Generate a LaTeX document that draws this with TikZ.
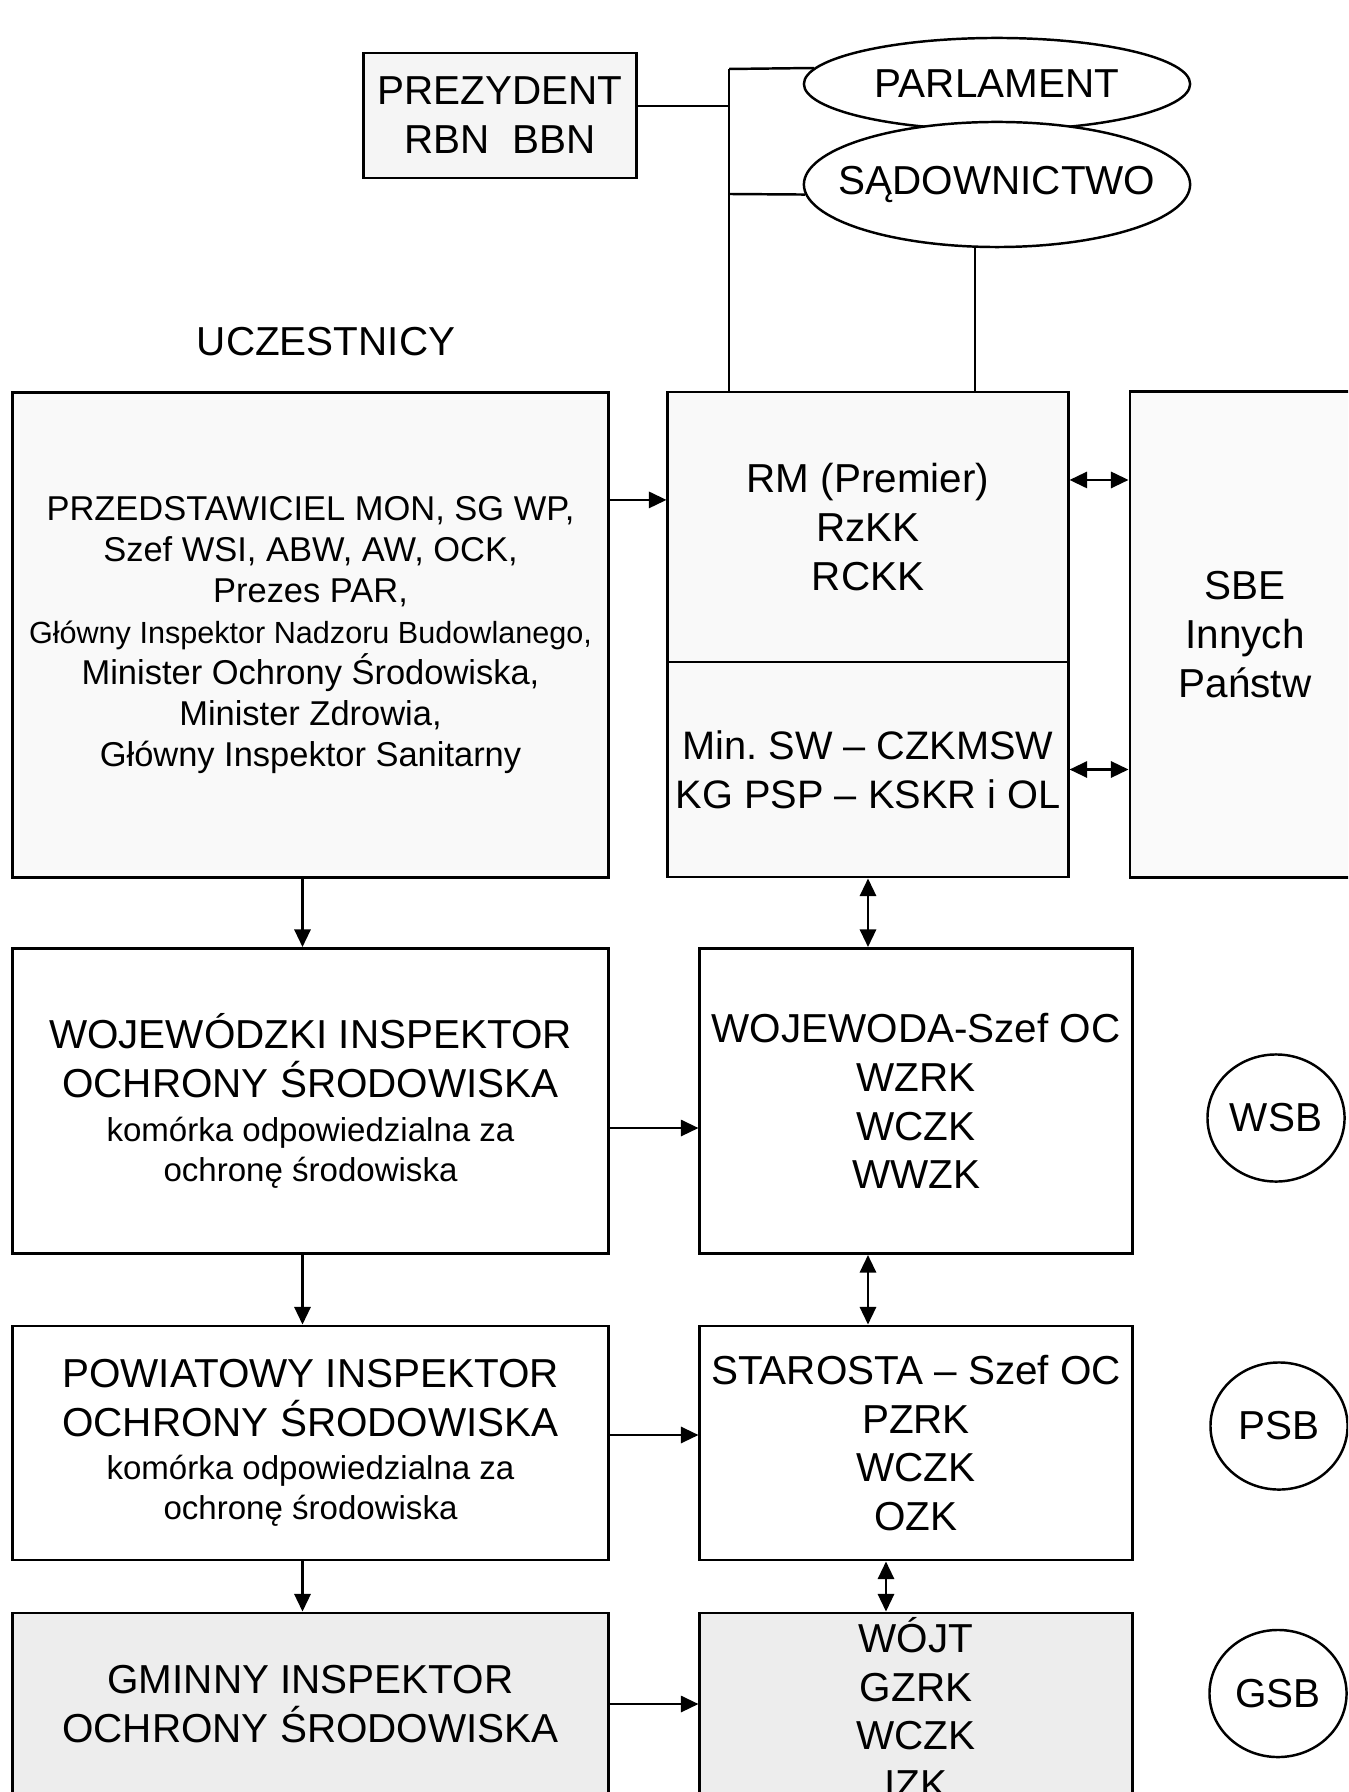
\documentclass[tikz,border=0pt]{standalone}
\usepackage{fontspec}
\setmainfont{Liberation Sans}
\usetikzlibrary{arrows.meta,shapes.geometric}
\newcommand{\bigtxt}{\fontsize{11.5}{13.9}\selectfont}
\newcommand{\smalltxt}{\fontsize{9.4}{11.6}\selectfont}
\begin{document}
\begin{tikzpicture}[x=0.01cm,y=-0.01cm,
    box/.style={draw,line width=0.8pt,inner sep=0pt,align=center,font=\bigtxt},
    oval/.style={draw,ellipse,line width=0.7pt,inner sep=0pt,fill=white,font=\bigtxt},
    arr/.style={line width=0.7pt,-{Triangle[length=5pt,width=4.6pt]}},
    darr/.style={line width=0.7pt,{Triangle[length=5pt,width=4.6pt]}-{Triangle[length=5pt,width=4.6pt]}}]
    \useasboundingbox[fill=white] (0,0) rectangle (1348,1792);
    \clip (0,0) rectangle (1348,1792);
    \node[box,fill=gray!8,minimum width=2.73cm,minimum height=1.25cm] (prez) at (500,115.5) {PREZYDENT\\RBN~~BBN};
    \node[oval,minimum width=3.86cm,minimum height=0.92cm] (parl) at (997,84) {PARLAMENT};
    \node[oval,minimum width=3.86cm,minimum height=1.25cm] (sad) at (997,184.5) {\makebox[0pt]{SĄDOWNICTWO}};
    \node[font=\bigtxt] (ucz) at (326,342) {UCZESTNICY};
    \node[box,fill=gray!5,font=\fontsize{9.8}{11.7}\selectfont,minimum width=5.95cm,minimum height=4.84cm] (przed) at (310.5,635) {PRZEDSTAWICIEL MON, SG WP,\\Szef WSI, ABW, AW, OCK,\\Prezes PAR,\\{\fontsize{8.7}{11.7}\selectfont Główny Inspektor Nadzoru Budowlanego,}\\Minister Ochrony Środowiska,\\Minister Zdrowia,\\Główny Inspektor Sanitarny};
    \node[box,fill=gray!5,minimum width=4cm,minimum height=2.7cm] (rm) at (868,527) {RM (Premier)\\RzKK\\RCKK};
    \node[box,fill=gray!5,font=\fontsize{11.3}{13.9}\selectfont,minimum width=4cm,minimum height=2.15cm] (msw) at (868,769.5) {Min.\ SW – CZKMSW\\KG PSP – KSKR i OL};
    \node[box,fill=gray!4,minimum width=2.3cm,minimum height=4.85cm] (sbe) at (1245,634.5) {SBE\\Innych\\Państw};
    \node[box,minimum width=5.95cm,minimum height=3.05cm] (wins) at (310.5,1101) {WOJEWÓDZKI INSPEKTOR\\OCHRONY ŚRODOWISKA\\[-1.5pt]{\smalltxt komórka odpowiedzialna za}\\[-2.5pt]{\smalltxt ochronę środowiska}};
    \node[box,minimum width=4.32cm,minimum height=3.05cm] (woj) at (916,1101) {WOJEWODA-Szef OC\\WZRK\\WCZK\\WWZK};
    \node[oval,minimum width=1.37cm,minimum height=1.27cm] (wsb) at (1276,1118) {WSB};
    \node[box,minimum width=5.95cm,minimum height=2.34cm] (pins) at (310.5,1443) {POWIATOWY INSPEKTOR\\OCHRONY ŚRODOWISKA\\[-1.5pt]{\smalltxt komórka odpowiedzialna za}\\[-2.5pt]{\smalltxt ochronę środowiska}};
    \node[box,minimum width=4.32cm,minimum height=2.34cm] (star) at (916,1443) {STAROSTA – Szef OC\\PZRK\\WCZK\\OZK};
    \node[oval,minimum width=1.37cm,minimum height=1.27cm] (psb) at (1279,1426) {PSB};
    \node[box,fill=gray!14,minimum width=5.95cm,minimum height=1.82cm] (gins) at (310.5,1704) {GMINNY INSPEKTOR\\OCHRONY ŚRODOWISKA};
    \node[box,fill=gray!14,minimum width=4.32cm,minimum height=1.9cm] (wojt) at (916,1708) {WÓJT\\GZRK\\WCZK\\IZK};
    \node[oval,minimum width=1.37cm,minimum height=1.27cm] (gsb) at (1278,1693.5) {GSB};
    \coordinate (jparl) at (729,69);
    \coordinate (jprez) at (729,106);
    \coordinate (jsad) at (729,194);
    \draw[line width=0.7pt] (jprez -| prez.east) -- (jprez);
    \draw[line width=0.7pt] (jparl) -- (parl.175);
    \draw[line width=0.7pt] (jsad) -- (sad.183);
    \draw[line width=0.7pt] (jparl) -- (jparl |- rm.north);
    \draw[line width=0.7pt] (sad.251) -- (sad.251 |- rm.north);
    \draw[arr] ([yshift=1.35cm]przed.east) -- ([yshift=1.35cm]przed.east -| rm.west);
    \draw[darr] ([yshift=0.47cm]rm.east) -- ([yshift=0.47cm]rm.east -| sbe.west);
    \draw[darr] (msw.east) -- (msw.east -| sbe.west);
    \draw[darr] (msw.south) -- (msw.south |- woj.north);
    \draw[arr] ([xshift=-0.08cm]przed.south) -- ([xshift=-0.08cm]wins.north);
    \draw[arr] ([yshift=-0.27cm]wins.east) -- ([yshift=-0.27cm]wins.east -| woj.west);
    \draw[darr] ([xshift=-0.48cm]woj.south) -- ([xshift=-0.48cm]star.north);
    \draw[arr] ([xshift=-0.08cm]wins.south) -- ([xshift=-0.08cm]pins.north);
    \draw[arr] ([yshift=0.08cm]pins.east) -- ([yshift=0.08cm]pins.east -| star.west);
    \draw[darr] ([xshift=-0.3cm]star.south) -- ([xshift=-0.3cm]wojt.north);
    \draw[arr] ([xshift=-0.08cm]pins.south) -- ([xshift=-0.08cm]gins.north);
    \draw[arr] (gins.east) -- (gins.east -| wojt.west);
\end{tikzpicture}
\end{document}
